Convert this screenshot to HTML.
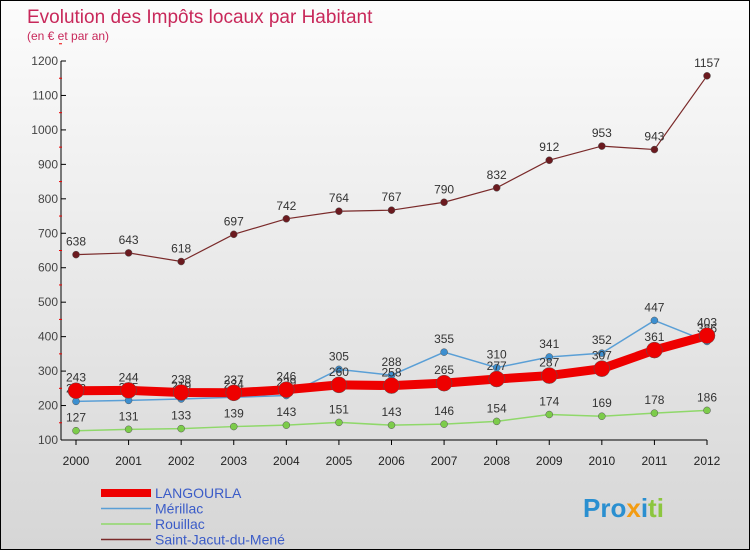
<!DOCTYPE html>
<html><head><meta charset="utf-8"><style>
body{margin:0}
#c{width:748px;height:548px;border:1px solid #000;background:linear-gradient(#fcfcfc,#d6d6d6);position:relative;font-family:"Liberation Sans",sans-serif;overflow:hidden}
</style></head><body>
<div id="c">
<svg id="s" width="748" height="548">
<text x="26" y="22" font-size="19" fill="#c8285a">Evolution des Impôts locaux par Habitant</text>
<text x="26" y="39" font-size="12" fill="#c8285a">(en € et par an)</text>
<g id="g"></g>
<text x="582" y="516" font-size="26" font-weight="bold" fill="#2a8fd0">Pro<tspan fill="#f39c12">x</tspan><tspan fill="#2a8fd0">i</tspan><tspan fill="#8cc63f">ti</tspan></text>
</svg>
</div>
<script>
const years=[2000,2001,2002,2003,2004,2005,2006,2007,2008,2009,2010,2011,2012];
const langourla=[243,244,238,237,246,260,258,265,277,287,307,361,403];
const merillac=[212,215,219,224,229,305,288,355,310,341,352,447,386];
const rouillac=[127,131,133,139,143,151,143,146,154,174,169,178,186];
const stjacut=[638,643,618,697,742,764,767,790,832,912,953,943,1157];
const yTicks=[100,200,300,400,500,600,700,800,900,1000,1100,1200];
const NS="http://www.w3.org/2000/svg";
const g=document.getElementById('g');
const X=i=>75+i*(706-75)/12;
const Y=v=>439-(v-100)*(439-60)/1100;
function el(t,a,p){const e=document.createElementNS(NS,t);for(const k in a)e.setAttribute(k,a[k]);(p||g).appendChild(e);return e;}
let ax=el('line',{x1:60,y1:60,x2:60,y2:439,stroke:'#000'});

let ax2=el('line',{x1:60,y1:439,x2:706,y2:439,stroke:'#000'});

yTicks.forEach(v=>{
 el('line',{x1:60,y1:Y(v),x2:65,y2:Y(v),stroke:'#000'});
 el('line',{x1:58,y1:Y(v+50),x2:61,y2:Y(v+50),stroke:'#e00'});
 const t=el('text',{x:57,y:Y(v)+4,'font-size':12,fill:'#444','text-anchor':'end'});t.textContent=v;
 
});
years.forEach((y,i)=>{
 el('line',{x1:X(i),y1:439,x2:X(i),y2:444,stroke:'#000'});
 const t=el('text',{x:X(i),y:464,'font-size':12,fill:'#222','text-anchor':'middle'});t.textContent=y;
 
});
function series(d,color,w,r,name,dot){
 const p=el('polyline',{points:d.map((v,i)=>X(i)+','+Y(v)).join(' '),fill:'none',stroke:color,'stroke-width':w});
 
 d.forEach((v,i)=>{
  const c=el('circle',{cx:X(i),cy:Y(v),r:r,fill:dot,stroke:'#555','stroke-width':0.5});
  
  const t=el('text',{x:X(i),y:Y(v)-9,'font-size':12,fill:'#333','text-anchor':'middle'});t.textContent=v;
  
 });
}
series(stjacut,'#7a2a2a',1.2,3.5,'saint-jacut','#6b1a1f');
series(rouillac,'#8fd86a',1.5,3.5,'rouillac','#7ccc4a');
series(merillac,'#5a9fd6',1.5,3.5,'merillac','#3c8fd0');
series(langourla,'#ee0000',9,8,'langourla','#ee0000');
const legNames=['LANGOURLA','Mérillac','Rouillac','Saint-Jacut-du-Mené'];
const legCol=['#ee0000','#5a9fd6','#8fd86a','#7a2a2a'];
const legW=[8,1.5,1.5,1.5];
legNames.forEach((n,i)=>{
 const y=492+i*15.5;
 const l=el('line',{x1:100,y1:y,x2:150,y2:y,stroke:legCol[i],'stroke-width':legW[i]});
 
 const t=el('text',{x:154,y:y+5,'font-size':14,fill:'#3b5cc8'});t.textContent=n;
 
});
</script>
</body></html>
